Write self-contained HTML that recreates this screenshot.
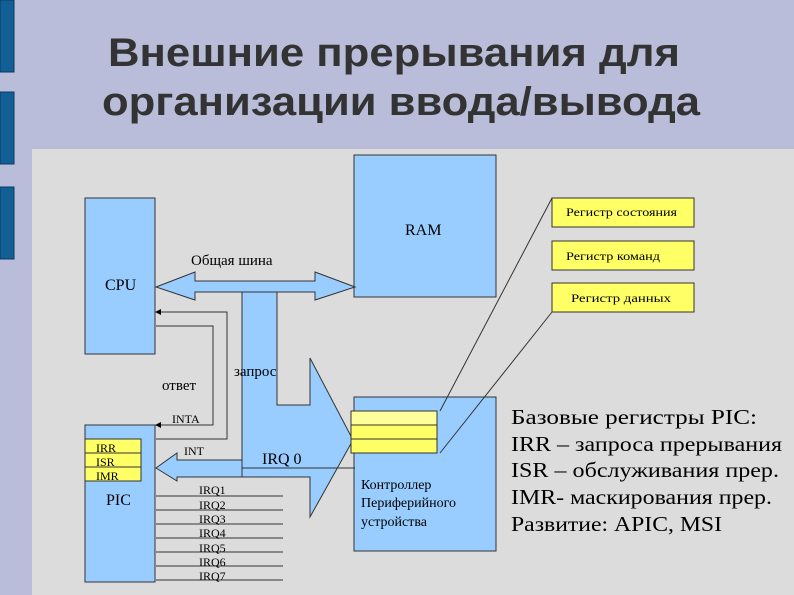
<!DOCTYPE html>
<html><head><meta charset="utf-8"><style>
body{margin:0;width:794px;height:595px;overflow:hidden;background:#b9bdd9;}
svg{display:block}
</style></head><body>
<svg width="794" height="595" xmlns="http://www.w3.org/2000/svg" font-family="Liberation Serif, serif">
<rect x="0" y="0" width="794" height="595" fill="#b9bdd9"/>
<rect x="0" y="0" width="14" height="72" fill="#115f94" stroke="#0d3a5a"/>
<rect x="0" y="92" width="14" height="72" fill="#115f94" stroke="#0d3a5a"/>
<rect x="0" y="187" width="14" height="72" fill="#115f94" stroke="#0d3a5a"/>
<rect x="32" y="149" width="762" height="446" fill="#dcdcdc"/>
<text x="108" y="66" font-family="Liberation Sans, sans-serif" font-weight="bold" font-size="40" fill="#333" textLength="572" lengthAdjust="spacingAndGlyphs">Внешние прерывания для</text>
<text x="102" y="115" font-family="Liberation Sans, sans-serif" font-weight="bold" font-size="40" fill="#333" textLength="598" lengthAdjust="spacingAndGlyphs">организации ввода/вывода</text>
<g stroke="#333" stroke-width="1">
<rect x="85" y="198" width="70" height="156" fill="#99ccff"/>
<rect x="85" y="425" width="70" height="157" fill="#99ccff"/>
<rect x="354" y="155" width="142" height="142" fill="#99ccff"/>
<rect x="354" y="397" width="142" height="154" fill="#99ccff"/>
<polygon points="156,287 195,272 195,281 315,281 315,272 355,287 315,300 315,292 195,292 195,300" fill="#99ccff"/>
<polygon points="242,292 277,292 277,405 310,405 310,358 353,440 310,517 310,477 242,477" fill="#99ccff"/>
<polygon points="156,468 177,453 177,460 242,460 242,477 177,477 177,481" fill="#99ccff"/>
<line x1="242" y1="468" x2="355" y2="468"/>
<rect x="85" y="439" width="56" height="14" fill="#ffff66"/>
<rect x="85" y="453" width="56" height="14" fill="#ffff66"/>
<rect x="85" y="467" width="56" height="14" fill="#ffff66"/>
<rect x="351" y="411" width="86" height="14" fill="#ffff99"/>
<rect x="351" y="425" width="86" height="14" fill="#ffff66"/>
<rect x="351" y="439" width="86" height="14" fill="#ffff66"/>
<rect x="552" y="198" width="142" height="29" fill="#ffff66"/>
<rect x="552" y="241" width="142" height="29" fill="#ffff66"/>
<rect x="552" y="283" width="142" height="29" fill="#ffff66"/>
<line x1="440" y1="411" x2="552" y2="198"/>
<line x1="440" y1="453" x2="552" y2="312"/>
<polyline points="156,439 227,439 227,312 160,312" fill="none"/>
<polyline points="156,326 213,326 213,425 160,425" fill="none"/>
<line x1="156" y1="496" x2="283" y2="496"/>
<line x1="156" y1="510" x2="283" y2="510"/>
<line x1="156" y1="524" x2="283" y2="524"/>
<line x1="156" y1="538" x2="283" y2="538"/>
<line x1="156" y1="552" x2="283" y2="552"/>
<line x1="156" y1="566" x2="283" y2="566"/>
<line x1="156" y1="580" x2="283" y2="580"/>
</g>
<polygon points="155,312 161,309 161,315" fill="#000"/>
<polygon points="155,425 161,422 161,428" fill="#000"/>
<g fill="#000" font-size="16">
<text x="105" y="290">CPU</text>
<text x="106" y="505">PIC</text>
<text x="405" y="235">RAM</text>
<text x="191" y="265" font-size="15">Общая шина</text>
<text x="162" y="390" font-size="15">ответ</text>
<text x="234" y="376" font-size="15">запрос</text>
<text x="262" y="464">IRQ 0</text>
<text x="361" y="489" font-size="14">Контроллер</text>
<text x="361" y="507" font-size="14">Периферийного</text>
<text x="361" y="526" font-size="14">устройства</text>
</g>
<g fill="#000" font-size="12">
<text x="172" y="423">INTA</text>
<text x="184" y="455">INT</text>
<text x="96" y="452">IRR</text>
<text x="96" y="466">ISR</text>
<text x="96" y="480">IMR</text>
<text x="199" y="494">IRQ1</text>
<text x="199" y="509">IRQ2</text>
<text x="199" y="523">IRQ3</text>
<text x="199" y="537">IRQ4</text>
<text x="199" y="552">IRQ5</text>
<text x="199" y="566">IRQ6</text>
<text x="199" y="580">IRQ7</text>
<text x="566" y="216" font-size="12" textLength="111" lengthAdjust="spacingAndGlyphs">Регистр состояния</text>
<text x="566" y="260" font-size="12" textLength="94" lengthAdjust="spacingAndGlyphs">Регистр команд</text>
<text x="571" y="302" font-size="12" textLength="100" lengthAdjust="spacingAndGlyphs">Регистр данных</text>
</g>
<g fill="#000" font-size="21">
<text x="511" y="424" textLength="246" lengthAdjust="spacingAndGlyphs">Базовые регистры PIC:</text>
<text x="511" y="451" textLength="271" lengthAdjust="spacingAndGlyphs">IRR – запроса прерывания</text>
<text x="511" y="477" textLength="268" lengthAdjust="spacingAndGlyphs">ISR – обслуживания прер.</text>
<text x="511" y="504" textLength="261" lengthAdjust="spacingAndGlyphs">IMR- маскирования прер.</text>
<text x="511" y="531" textLength="211" lengthAdjust="spacingAndGlyphs">Развитие: APIC, MSI</text>
</g>
</svg>
</body></html>
